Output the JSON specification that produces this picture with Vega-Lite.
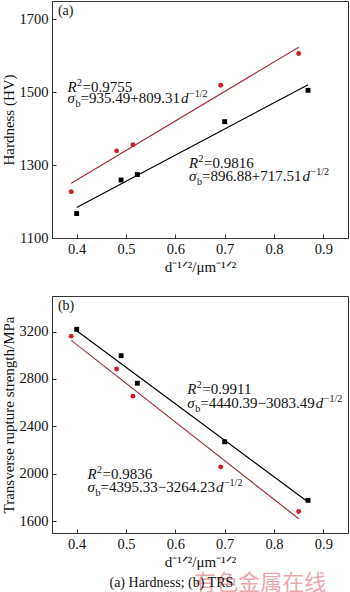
{
  "$schema": "https://vega.github.io/schema/vega-lite/v6.json",
  "padding": {"left": 0, "top": 0, "right": 0, "bottom": 0},
  "background": "white",
  "datasets": {
    "hv_points": [
      {"alloy": "WC-CoNiFe", "d": 0.400, "value": 1167},
      {"alloy": "WC-CoNiFe", "d": 0.490, "value": 1259},
      {"alloy": "WC-CoNiFe", "d": 0.523, "value": 1274},
      {"alloy": "WC-CoNiFe", "d": 0.700, "value": 1419},
      {"alloy": "WC-CoNiFe", "d": 0.869, "value": 1505},
      {"alloy": "WC-Co", "d": 0.389, "value": 1227},
      {"alloy": "WC-Co", "d": 0.481, "value": 1339},
      {"alloy": "WC-Co", "d": 0.514, "value": 1356},
      {"alloy": "WC-Co", "d": 0.692, "value": 1519},
      {"alloy": "WC-Co", "d": 0.850, "value": 1606}
    ],
    "hv_fit": [
      {"alloy": "WC-CoNiFe", "d": 0.400, "value": 1183.9},
      {"alloy": "WC-CoNiFe", "d": 0.869, "value": 1520.4},
      {"alloy": "WC-Co", "d": 0.389, "value": 1250.3},
      {"alloy": "WC-Co", "d": 0.850, "value": 1623.4}
    ],
    "hv_notes": [
      {"alloy": "WC-Co", "d": 0.3814, "v1": 1501, "v2": 1471, "r2": "=0.9755", "eq": "=935.49+809.31"},
      {"alloy": "WC-CoNiFe", "d": 0.6277, "v1": 1293, "v2": 1257, "r2": "=0.9816", "eq": "=896.88+717.51"}
    ],
    "hv_label": [{"d": 0.362, "value": 1711, "label": "(a)"}],
    "trs_points": [
      {"alloy": "WC-CoNiFe", "d": 0.400, "value": 3219},
      {"alloy": "WC-CoNiFe", "d": 0.490, "value": 2996},
      {"alloy": "WC-CoNiFe", "d": 0.523, "value": 2764},
      {"alloy": "WC-CoNiFe", "d": 0.700, "value": 2270},
      {"alloy": "WC-CoNiFe", "d": 0.869, "value": 1776},
      {"alloy": "WC-Co", "d": 0.389, "value": 3161},
      {"alloy": "WC-Co", "d": 0.481, "value": 2884},
      {"alloy": "WC-Co", "d": 0.514, "value": 2655},
      {"alloy": "WC-Co", "d": 0.692, "value": 2058},
      {"alloy": "WC-Co", "d": 0.850, "value": 1681}
    ],
    "trs_fit": [
      {"alloy": "WC-CoNiFe", "d": 0.400, "value": 3207.0},
      {"alloy": "WC-CoNiFe", "d": 0.869, "value": 1760.8},
      {"alloy": "WC-Co", "d": 0.389, "value": 3125.5},
      {"alloy": "WC-Co", "d": 0.850, "value": 1620.7}
    ],
    "trs_notes": [
      {"alloy": "WC-CoNiFe", "d": 0.6243, "v1": 2671, "v2": 2559, "r2": "=0.9911", "eq": "=4440.39\u22123083.49"},
      {"alloy": "WC-Co", "d": 0.4219, "v1": 1955, "v2": 1849, "r2": "=0.9836", "eq": "=4395.33\u22123264.23"}
    ],
    "trs_label": [{"d": 0.362, "value": 3385, "label": "(b)"}],
    "caption": [{"d": 0.592, "value": 1042, "label": "(a) Hardness; (b) TRS"}],
    "watermark": [{"d": 0.772, "value": 1022, "label": "有色金属在线"}]
  },
  "spacing": 20,
  "resolve": {
    "scale": {"color": "independent", "shape": "independent", "stroke": "independent"},
    "legend": {"color": "independent", "shape": "independent"}
  },
  "config": {
    "font": "Liberation Serif",
    "view": {"stroke": "#333", "strokeWidth": 1},
    "axis": {
      "labelFont": "Liberation Serif",
      "labelFontSize": 14.5,
      "labelColor": "#111",
      "titleFont": "Liberation Serif",
      "titleFontSize": 15,
      "titleFontWeight": "normal",
      "titleColor": "#111",
      "grid": false,
      "domainColor": "#333",
      "tickColor": "#333",
      "tickSize": -4,
      "labelPadding": 8
    },
    "axisY": {"titlePadding": 3},
    "axisX": {"titlePadding": 4},
    "legend": {
      "labelFont": "Liberation Serif",
      "labelFontSize": 14.5,
      "labelColor": "#111",
      "padding": 0,
      "rowPadding": 1,
      "labelOffset": 5
    }
  },
  "vconcat": [
    {
      "width": 296,
      "height": 237,
      "layer": [
        {
          "data": {"name": "hv_fit"},
          "mark": {"type": "line", "strokeWidth": 1.2},
          "encoding": {
            "x": {"field": "d", "type": "quantitative", "scale": {"domain": [0.35, 0.95], "nice": false, "zero": false},
                  "axis": {"values": [0.4, 0.5, 0.6, 0.7, 0.8, 0.9], "format": ".1f", "title": "d\u207b\u00b9\u141f\u00b2/\u03bcm\u207b\u00b9\u141f\u00b2"}},
            "y": {"field": "value", "type": "quantitative", "scale": {"domain": [1100, 1750], "nice": false, "zero": false},
                  "axis": {"values": [1100, 1200, 1300, 1400, 1500, 1600, 1700], "format": "d", "title": "Hardness (HV)"}},
            "stroke": {"field": "alloy", "type": "nominal", "scale": {"domain": ["WC-CoNiFe", "WC-Co"], "range": ["#000000", "#a4303c"]}, "legend": null},
            "detail": {"field": "alloy"}
          }
        },
        {
          "data": {"name": "hv_points"},
          "mark": {"type": "point", "filled": true, "opacity": 1, "size": 24},
          "encoding": {
            "x": {"field": "d", "type": "quantitative"},
            "y": {"field": "value", "type": "quantitative"},
            "color": {"field": "alloy", "type": "nominal", "scale": {"domain": ["WC-CoNiFe", "WC-Co"], "range": ["#000000", "#d01c24"]},
                      "legend": {"title": null, "orient": "none", "legendX": 193, "legendY": 8, "symbolSize": 24}},
            "shape": {"field": "alloy", "type": "nominal", "scale": {"domain": ["WC-CoNiFe", "WC-Co"], "range": ["square", "circle"]},
                      "legend": {"title": null, "orient": "none", "legendX": 193, "legendY": 8, "symbolSize": 24}}
          }
        },
        {"data": {"name": "hv_notes"}, "mark": {"type": "text", "font": "Liberation Serif", "text": "R", "fontStyle": "italic", "fontSize": 15, "align": "left", "baseline": "alphabetic", "color": "#111"},
         "encoding": {"x": {"field": "d", "type": "quantitative"}, "y": {"field": "v1", "type": "quantitative"}}},
        {"data": {"name": "hv_notes"}, "mark": {"type": "text", "font": "Liberation Serif", "text": "2", "fontSize": 10, "dx": 9.5, "dy": -6, "align": "left", "baseline": "alphabetic", "color": "#111"},
         "encoding": {"x": {"field": "d", "type": "quantitative"}, "y": {"field": "v1", "type": "quantitative"}}},
        {"data": {"name": "hv_notes"}, "mark": {"type": "text", "font": "Liberation Serif", "fontSize": 15, "dx": 15, "align": "left", "baseline": "alphabetic", "color": "#111"},
         "encoding": {"x": {"field": "d", "type": "quantitative"}, "y": {"field": "v1", "type": "quantitative"}, "text": {"field": "r2"}}},
        {"data": {"name": "hv_notes"}, "mark": {"type": "text", "font": "Liberation Serif", "text": "σ", "fontStyle": "italic", "fontSize": 15, "align": "left", "baseline": "alphabetic", "color": "#111"},
         "encoding": {"x": {"field": "d", "type": "quantitative"}, "y": {"field": "v2", "type": "quantitative"}}},
        {"data": {"name": "hv_notes"}, "mark": {"type": "text", "font": "Liberation Serif", "text": "b", "fontSize": 10, "dx": 8, "dy": 4, "align": "left", "baseline": "alphabetic", "color": "#111"},
         "encoding": {"x": {"field": "d", "type": "quantitative"}, "y": {"field": "v2", "type": "quantitative"}}},
        {"data": {"name": "hv_notes"}, "mark": {"type": "text", "font": "Liberation Serif", "fontSize": 15, "dx": 13, "align": "left", "baseline": "alphabetic", "color": "#111"},
         "encoding": {"x": {"field": "d", "type": "quantitative"}, "y": {"field": "v2", "type": "quantitative"}, "text": {"field": "eq"}}},
        {"data": {"name": "hv_notes"}, "mark": {"type": "text", "font": "Liberation Serif", "text": "d", "fontStyle": "italic", "fontSize": 15, "dx": 113.5, "align": "left", "baseline": "alphabetic", "color": "#111"},
         "encoding": {"x": {"field": "d", "type": "quantitative"}, "y": {"field": "v2", "type": "quantitative"}}},
        {"data": {"name": "hv_notes"}, "mark": {"type": "text", "font": "Liberation Serif", "text": "\u22121/2", "fontSize": 10, "dx": 121.5, "dy": -6, "align": "left", "baseline": "alphabetic", "color": "#111"},
         "encoding": {"x": {"field": "d", "type": "quantitative"}, "y": {"field": "v2", "type": "quantitative"}}},
        {"data": {"name": "hv_label"}, "mark": {"type": "text", "font": "Liberation Serif", "fontSize": 14, "align": "left", "baseline": "alphabetic", "color": "#111"},
         "encoding": {"x": {"field": "d", "type": "quantitative"}, "y": {"field": "value", "type": "quantitative"}, "text": {"field": "label"}}}
      ]
    },
    {
      "width": 296,
      "height": 237,
      "layer": [
        {
          "data": {"name": "trs_fit"},
          "mark": {"type": "line", "strokeWidth": 1.2},
          "encoding": {
            "x": {"field": "d", "type": "quantitative", "scale": {"domain": [0.35, 0.95], "nice": false, "zero": false},
                  "axis": {"values": [0.4, 0.5, 0.6, 0.7, 0.8, 0.9], "format": ".1f", "title": "d\u207b\u00b9\u141f\u00b2/\u03bcm\u207b\u00b9\u141f\u00b2"}},
            "y": {"field": "value", "type": "quantitative", "scale": {"domain": [1500, 3500], "nice": false, "zero": false},
                  "axis": {"values": [1600, 2000, 2400, 2800, 3200], "format": "d", "title": "Transverse rupture strength/MPa"}},
            "stroke": {"field": "alloy", "type": "nominal", "scale": {"domain": ["WC-CoNiFe", "WC-Co"], "range": ["#000000", "#a4303c"]}, "legend": null},
            "detail": {"field": "alloy"}
          }
        },
        {
          "data": {"name": "trs_points"},
          "mark": {"type": "point", "filled": true, "opacity": 1, "size": 24},
          "encoding": {
            "x": {"field": "d", "type": "quantitative"},
            "y": {"field": "value", "type": "quantitative"},
            "color": {"field": "alloy", "type": "nominal", "scale": {"domain": ["WC-CoNiFe", "WC-Co"], "range": ["#000000", "#d01c24"]},
                      "legend": {"title": null, "orient": "none", "legendX": 193, "legendY": 11, "symbolSize": 24}},
            "shape": {"field": "alloy", "type": "nominal", "scale": {"domain": ["WC-CoNiFe", "WC-Co"], "range": ["square", "circle"]},
                      "legend": {"title": null, "orient": "none", "legendX": 193, "legendY": 11, "symbolSize": 24}}
          }
        },
        {"data": {"name": "trs_notes"}, "mark": {"type": "text", "font": "Liberation Serif", "text": "R", "fontStyle": "italic", "fontSize": 15, "align": "left", "baseline": "alphabetic", "color": "#111"},
         "encoding": {"x": {"field": "d", "type": "quantitative"}, "y": {"field": "v1", "type": "quantitative"}}},
        {"data": {"name": "trs_notes"}, "mark": {"type": "text", "font": "Liberation Serif", "text": "2", "fontSize": 10, "dx": 9.5, "dy": -6, "align": "left", "baseline": "alphabetic", "color": "#111"},
         "encoding": {"x": {"field": "d", "type": "quantitative"}, "y": {"field": "v1", "type": "quantitative"}}},
        {"data": {"name": "trs_notes"}, "mark": {"type": "text", "font": "Liberation Serif", "fontSize": 15, "dx": 15, "align": "left", "baseline": "alphabetic", "color": "#111"},
         "encoding": {"x": {"field": "d", "type": "quantitative"}, "y": {"field": "v1", "type": "quantitative"}, "text": {"field": "r2"}}},
        {"data": {"name": "trs_notes"}, "mark": {"type": "text", "font": "Liberation Serif", "text": "σ", "fontStyle": "italic", "fontSize": 15, "align": "left", "baseline": "alphabetic", "color": "#111"},
         "encoding": {"x": {"field": "d", "type": "quantitative"}, "y": {"field": "v2", "type": "quantitative"}}},
        {"data": {"name": "trs_notes"}, "mark": {"type": "text", "font": "Liberation Serif", "text": "b", "fontSize": 10, "dx": 8, "dy": 4, "align": "left", "baseline": "alphabetic", "color": "#111"},
         "encoding": {"x": {"field": "d", "type": "quantitative"}, "y": {"field": "v2", "type": "quantitative"}}},
        {"data": {"name": "trs_notes"}, "mark": {"type": "text", "font": "Liberation Serif", "fontSize": 15, "dx": 13, "align": "left", "baseline": "alphabetic", "color": "#111"},
         "encoding": {"x": {"field": "d", "type": "quantitative"}, "y": {"field": "v2", "type": "quantitative"}, "text": {"field": "eq"}}},
        {"data": {"name": "trs_notes"}, "mark": {"type": "text", "font": "Liberation Serif", "text": "d", "fontStyle": "italic", "fontSize": 15, "dx": 128.5, "align": "left", "baseline": "alphabetic", "color": "#111"},
         "encoding": {"x": {"field": "d", "type": "quantitative"}, "y": {"field": "v2", "type": "quantitative"}}},
        {"data": {"name": "trs_notes"}, "mark": {"type": "text", "font": "Liberation Serif", "text": "\u22121/2", "fontSize": 10, "dx": 136.5, "dy": -6, "align": "left", "baseline": "alphabetic", "color": "#111"},
         "encoding": {"x": {"field": "d", "type": "quantitative"}, "y": {"field": "v2", "type": "quantitative"}}},
        {"data": {"name": "trs_label"}, "mark": {"type": "text", "font": "Liberation Serif", "fontSize": 14, "align": "left", "baseline": "alphabetic", "color": "#111"},
         "encoding": {"x": {"field": "d", "type": "quantitative"}, "y": {"field": "value", "type": "quantitative"}, "text": {"field": "label"}}},
        {"data": {"name": "watermark"}, "mark": {"type": "text", "font": "Noto Sans CJK SC", "fontSize": 22, "align": "center", "baseline": "alphabetic", "color": "#e89aa2", "opacity": 0.85, "clip": false},
         "encoding": {"x": {"field": "d", "type": "quantitative"}, "y": {"field": "value", "type": "quantitative"}, "text": {"field": "label"}}},
        {"data": {"name": "caption"}, "mark": {"type": "text", "font": "Liberation Serif", "fontSize": 14, "align": "center", "baseline": "alphabetic", "color": "#111", "clip": false},
         "encoding": {"x": {"field": "d", "type": "quantitative"}, "y": {"field": "value", "type": "quantitative"}, "text": {"field": "label"}}}
      ]
    }
  ]
}
